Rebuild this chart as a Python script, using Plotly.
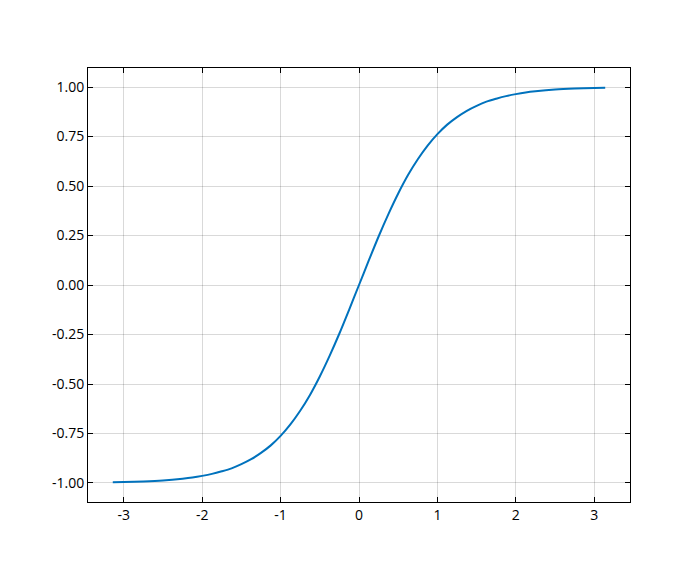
import plotly.graph_objects as go

# values
x_vals = [-3.14, -3.0, -2.75, -2.5, -2.25, -2.125, -2.0, -1.875, -1.75, -1.625, -1.5, -1.375, -1.25, -1.125,
          -1.0, -0.875, -0.75, -0.625, -0.5, -0.375, -0.25, -0.125,
          0.0, 0.125, 0.25, 0.375, 0.5, 0.625, 0.75, 0.875,
          1.0, 1.125, 1.25, 1.375, 1.5, 1.625, 1.75, 1.875, 2.0, 2.125, 2.25, 2.5, 2.75, 3.0, 3.14]
y_vals = [-0.996, -0.995, -0.992, -0.987, -0.978, -0.972, -0.964, -0.954, -0.941, -0.926, -0.905, -0.880, -0.848, -0.810,
          -0.762, -0.704, -0.635, -0.555, -0.462, -0.358, -0.245, -0.124,
          0.0, 0.124, 0.245, 0.358, 0.462, 0.555, 0.635, 0.704,
          0.762, 0.810, 0.848, 0.880, 0.905, 0.926, 0.941, 0.954, 0.964, 0.972, 0.978, 0.987, 0.992, 0.995, 0.996]

x_ticks = [-3, -2, -1, 0, 1, 2, 3]
y_ticks = [-1.0, -0.75, -0.5, -0.25, 0.0, 0.25, 0.5, 0.75, 1.0]

fig = go.Figure()
fig.add_trace(go.Scatter(x=x_vals, y=y_vals, mode='lines',
                         line=dict(color='#0072BD', width=2, shape='spline', smoothing=0.8)))

axis_style = dict(showline=True, linecolor='black', linewidth=1, mirror='ticks',
                  ticks='inside', ticklen=5, tickcolor='black', tickwidth=1,
                  showgrid=True, gridcolor='rgba(0,0,0,0.15)', gridwidth=1,
                  zeroline=False, tickfont=dict(family='Open Sans', size=14, color='black'))

fig.update_xaxes(range=[-3.456, 3.456], tickvals=x_ticks, ticktext=[str(t) for t in x_ticks], **axis_style)
fig.update_yaxes(range=[-1.096, 1.096], tickvals=y_ticks, ticktext=['%.2f' % t for t in y_ticks], **axis_style)

fig.update_layout(width=700, height=564, showlegend=False,
                  margin=dict(l=80, r=78, t=60, b=70),
                  plot_bgcolor='white', paper_bgcolor='white')

fig.write_html("out.html")
